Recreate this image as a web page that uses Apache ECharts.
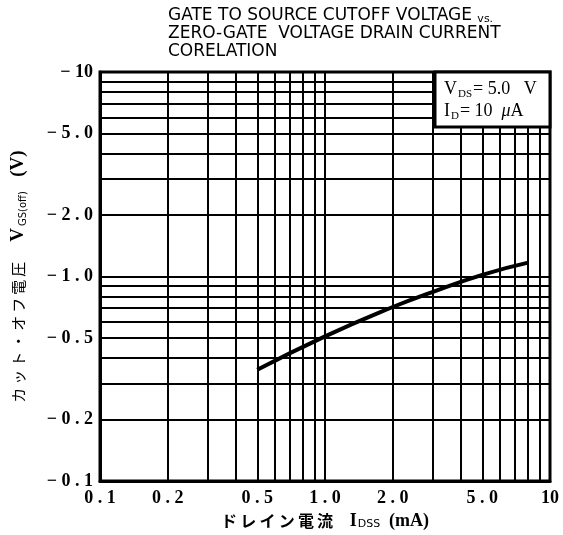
<!DOCTYPE html>
<html>
<head>
<meta charset="utf-8">
<script src="https://cdn.jsdelivr.net/npm/echarts@6/dist/echarts.min.js"></script>
<style>html,body{margin:0;padding:0;background:#fff;}#c{width:563px;height:535px;}</style>
</head>
<body>
<div id="c"></div>
<script>
// Data
const idss = [0.5, 1.0, 2.0, 3.0, 5.0, 8.0];            // mA
const vgsOff = [-0.35, -0.51, -0.71, -0.84, -1.02, -1.17]; // V
const xTickLabels = [0.1, 0.2, 0.5, 1, 2, 5, 10];
const yTickLabels = [-0.1, -0.2, -0.5, -1, -2, -5, -10];
const gridValues = [0.1,0.2,0.3,0.4,0.5,0.6,0.7,0.8,0.9,1,2,3,4,5,6,7,8,9,10];

function fmt(v) {
  if (v >= 10) return String(Math.round(v));
  return v.toFixed(1).split('').join(' ');
}

const numFont = { fontFamily: 'Liberation Serif', fontWeight: 'bold', fontSize: 18, color: '#000' };
const sp = '\u2009';
const spaced = s => s.split('').join(sp);

const chart = echarts.init(document.getElementById('c'), null, { renderer: 'canvas' });
chart.setOption({
  backgroundColor: '#fff',
  animation: false,
  title: {
    text: 'GATE TO SOURCE CUTOFF VOLTAGE {s|vs.}\nZERO-GATE  VOLTAGE DRAIN CURRENT\nCORELATION',
    left: 163, top: 2,
    textStyle: {
      fontFamily: 'DejaVu Sans', fontWeight: 'normal', fontSize: 17, lineHeight: 18, color: '#000',
      rich: { s: { fontFamily: 'DejaVu Sans', fontSize: 11, lineHeight: 18, color: '#000', verticalAlign: 'bottom' } }
    }
  },
  grid: { left: 100, right: 13, top: 72, bottom: 53, show: true, borderColor: '#000', borderWidth: 3, backgroundColor: 'transparent' },
  xAxis: {
    type: 'log', logBase: 10, min: 0.1, max: 10,
    name: '{jp|' + spaced('ドレイン電流') + '}     {v|I}{sub|DSS}  {v|(mA)}',
    nameLocation: 'middle', nameGap: 28,
    nameTextStyle: {
      color: '#000',
      rich: {
        jp: { fontFamily: 'Noto Sans CJK JP', fontSize: 16, fontWeight: 'bold', color: '#000' },
        v: { fontFamily: 'Liberation Serif', fontSize: 18, fontWeight: 'bold', color: '#000' },
        sub: { fontFamily: 'DejaVu Sans', fontSize: 11, color: '#000', verticalAlign: 'bottom', padding: [7, 2, 0, 1] }
      }
    },
    axisLine: { show: true, lineStyle: { color: '#000', width: 3 } },
    axisTick: { show: false, customValues: gridValues },
    axisLabel: { customValues: xTickLabels, formatter: v => fmt(v), margin: 8, ...numFont },
    splitLine: { show: true, lineStyle: { color: '#000', width: 2 } }
  },
  yAxis: {
    type: 'log', logBase: 10, min: 0.1, max: 10,
    name: '{jp|' + spaced('カット・オフ電圧') + '}      {v|V}{sub|GS(off)}    {v|(V)}',
    nameLocation: 'middle', nameGap: 72, nameRotate: 90,
    nameTextStyle: {
      color: '#000',
      rich: {
        jp: { fontFamily: 'Noto Sans CJK JP', fontSize: 15, color: '#000' },
        v: { fontFamily: 'Liberation Serif', fontSize: 19, fontWeight: 'bold', color: '#000' },
        sub: { fontFamily: 'DejaVu Sans', fontSize: 10, color: '#000', verticalAlign: 'bottom', padding: [7, 1, 0, 2] }
      }
    },
    axisLine: { show: true, lineStyle: { color: '#000', width: 3 } },
    axisTick: { show: false, customValues: gridValues },
    axisLabel: { customValues: yTickLabels.map(Math.abs), formatter: v => '\u2212 ' + fmt(v), margin: 7, ...numFont },
    splitLine: { show: true, lineStyle: { color: '#000', width: 2 } }
  },
  series: [{
    type: 'line',
    data: idss.map((x, i) => [x, Math.abs(vgsOff[i])]),
    smooth: true,
    showSymbol: false,
    lineStyle: { color: '#000', width: 4 },
    z: 5
  }],
  graphic: [
    { type: 'rect', z: 100, zlevel: 1, shape: { x: 435, y: 72, width: 115, height: 55 },
      style: { fill: '#fff', stroke: '#000', lineWidth: 3 } },
    { type: 'text', z: 101, zlevel: 1, x: 444, y: 78,
      style: {
        text: '{v|V}{sub|DS}{v|= 5.0   V}\n{v|I}{sub|D}{v|= 10  }{mu|μ}{v|A}',
        fill: '#000',
        rich: {
          v: { fontFamily: 'Liberation Serif', fontSize: 18, lineHeight: 22, fill: '#000' },
          mu: { fontFamily: 'Liberation Serif', fontStyle: 'italic', fontSize: 18, lineHeight: 22, fill: '#000' },
          sub: { fontFamily: 'Liberation Serif', fontSize: 11, lineHeight: 22, fill: '#000', verticalAlign: 'bottom', padding: [7, 1, 0, 1] }
        }
      } }
  ]
});
</script>
</body>
</html>
